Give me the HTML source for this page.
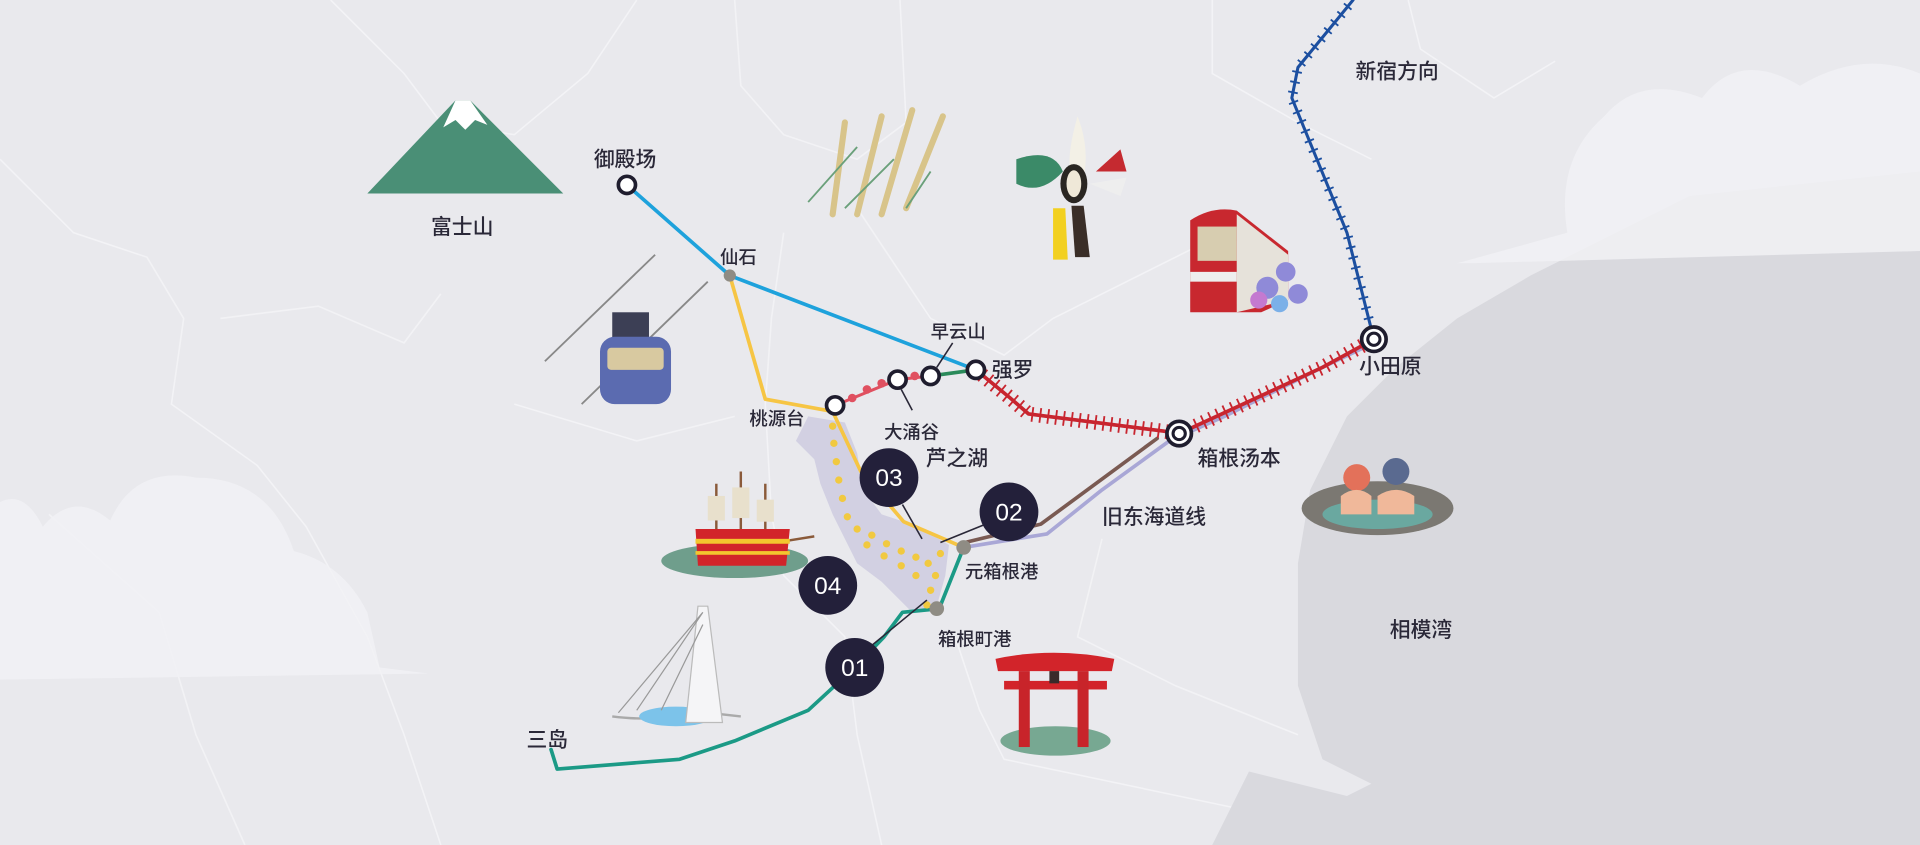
<!DOCTYPE html>
<html><head><meta charset="utf-8"><style>
html,body{margin:0;padding:0;background:#e8e8ec;overflow:hidden}
svg{display:block}
text{font-family:"Liberation Sans","Noto Sans CJK SC",sans-serif;fill:#2a2838;font-weight:500}
</style></head><body>
<svg width="1920" height="845" viewBox="0 0 1568 690" preserveAspectRatio="none" xmlns="http://www.w3.org/2000/svg">
<rect width="1568" height="690" fill="#e9e9ed"/>
<g fill="none" stroke="#f6f6f8" stroke-width="1.3" opacity="0.75">
<path d="M270 0 L330 60 L360 100 L420 110 L480 60 L520 0"/>
<path d="M600 0 L605 70 L640 110 L700 130 L740 100 L735 0"/>
<path d="M0 130 L60 190 L120 210 L150 260 L140 330 L210 380 L250 430 L300 520 L330 600 L360 690"/>
<path d="M180 260 L260 250 L330 280 L360 240"/>
<path d="M640 190 L630 260 L625 330 L630 420 L640 470 L690 520 L700 600 L720 690"/>
<path d="M700 170 L760 260 L820 290 L860 260 L980 200"/>
<path d="M780 520 L800 580 L820 620 L1010 660"/>
<path d="M900 440 L880 520 L960 560 L1060 600"/>
<path d="M990 0 L990 60 L1060 100 L1120 130"/>
<path d="M1150 0 L1160 40 L1220 80 L1270 50"/>
<path d="M420 330 L520 360 L600 340"/>
<path d="M40 420 L130 500 L160 600 L200 690"/>
</g>
<path d="M1568 140 L1380 160 L1250 225 L1190 260 L1140 300 L1100 340 L1070 400 L1060 460 L1060 560 L1080 620 L1120 640 L1100 650 L1020 630 L990 690 L1568 690 Z" fill="#d9d9de"/>
<g fill="#f1f1f4">
<path d="M1190 215 L1280 190 Q1270 130 1310 95 Q1340 60 1390 80 Q1420 40 1470 70 Q1520 40 1568 60 L1568 205 L1200 215Z" opacity="0.85"/>
<path d="M0 555 L0 410 Q20 400 35 430 Q60 400 90 425 Q110 380 160 390 Q220 390 240 450 Q280 460 300 500 L310 545 L350 550 Z" opacity="0.85"/>
</g>
<path d="M660 340 L690 345 L700 370 L705 400 L720 420 L750 430 L775 445 L772 470 L765 495 L745 500 L720 475 L700 460 L690 440 L680 420 L670 395 L665 375 L650 360 Z" fill="#d2d0e2"/>
<g fill="none" stroke-linejoin="round" stroke-linecap="round">
<polyline points="512,151 596,225 797,302" stroke="#1ea2dc" stroke-width="3"/>
<polyline points="596,225 625,326 680,336 703,385 738,426 787,447" stroke="#f6c544" stroke-width="3"/>
<polyline points="787,447 855,436 900,400 955,360 1000,340 1080,300 1122,280" stroke="#a9a7d6" stroke-width="3"/>
<polyline points="788,443 850,428 945,358" stroke="#7a5a52" stroke-width="3"/>
<polyline points="787,447 767,497 737,500 722,520 698,545 660,580 600,605 555,620 455,628 450,612" stroke="#1b9a86" stroke-width="3"/>
<polyline points="682,331 733,310 760,307" stroke="#e05060" stroke-width="2.5"/>
<polyline points="760,307 797,302" stroke="#2a8a5a" stroke-width="3"/>
<polyline points="797,302 825,325 840,338 950,352 963,354 1000,337 1080,300 1122,277" stroke="#c8252f" stroke-width="3"/>
<polyline points="797,302 825,325 840,338 950,352 963,354 1000,337 1080,300 1122,277" stroke="#c8252f" stroke-width="12" stroke-dasharray="1.5 5" stroke-linecap="butt"/>
<polyline points="1122,277 1100,190 1055,80 1060,55 1105,0" stroke="#1c4fa0" stroke-width="2.5"/>
<polyline points="1122,277 1100,190 1055,80 1060,55 1105,0" stroke="#1c4fa0" stroke-width="8" stroke-dasharray="1.5 7" stroke-linecap="butt"/>
</g>
<g fill="#e05060"><circle cx="696" cy="325" r="3.5"/><circle cx="708" cy="318" r="3.5"/><circle cx="720" cy="313" r="3.5"/><circle cx="747" cy="307" r="3.5"/></g>
<g fill="#f1c940">
<circle cx="680" cy="348" r="3"/><circle cx="681" cy="362" r="3"/><circle cx="683" cy="377" r="3"/><circle cx="685" cy="392" r="3"/><circle cx="688" cy="407" r="3"/><circle cx="692" cy="422" r="3"/><circle cx="700" cy="432" r="3"/><circle cx="712" cy="437" r="3"/><circle cx="724" cy="444" r="3"/><circle cx="736" cy="450" r="3"/><circle cx="748" cy="455" r="3"/><circle cx="758" cy="460" r="3"/><circle cx="764" cy="470" r="3"/><circle cx="760" cy="482" r="3"/><circle cx="748" cy="470" r="3"/><circle cx="736" cy="462" r="3"/><circle cx="722" cy="454" r="3"/><circle cx="708" cy="445" r="3"/><circle cx="768" cy="452" r="3"/><circle cx="757" cy="494" r="3"/>
</g>
<g stroke="#2a2838" stroke-width="1.3">
<line x1="737" y1="412" x2="753" y2="440"/><line x1="805" y1="428" x2="768" y2="443"/><line x1="712" y1="527" x2="757" y2="490"/>
<line x1="736" y1="318" x2="745" y2="335"/><line x1="765" y1="300" x2="778" y2="280"/>
</g>
<g fill="#fff" stroke="#1f1d2e" stroke-width="3">
<circle cx="512" cy="151" r="7"/><circle cx="682" cy="331" r="7"/><circle cx="733" cy="310" r="7"/><circle cx="760" cy="307" r="7"/><circle cx="797" cy="302" r="7"/>
<circle cx="963" cy="354" r="10"/><circle cx="1122" cy="277" r="10"/>
</g>
<g fill="none" stroke="#1f1d2e" stroke-width="2.5"><circle cx="963" cy="354" r="5"/><circle cx="1122" cy="277" r="5"/></g>
<g fill="#8f8c84"><circle cx="596" cy="225" r="5"/><circle cx="787" cy="447" r="6"/><circle cx="765" cy="497" r="6"/></g>
<g fill="#23203a"><circle cx="726" cy="390" r="24"/><circle cx="824" cy="418" r="24"/><circle cx="676" cy="478" r="24"/><circle cx="698" cy="545" r="24"/></g>
<g font-size="20" text-anchor="middle"><text x="726" y="397" style="fill:#fff">03</text><text x="824" y="425" style="fill:#fff">02</text><text x="676" y="485" style="fill:#fff">04</text><text x="698" y="552" style="fill:#fff">01</text></g>
<g font-size="17">
<text x="485" y="136">御殿场</text><text x="352" y="191">富士山</text><text x="588" y="215" font-size="15">仙石</text>
<text x="760" y="276" font-size="15">早云山</text><text x="810" y="308">强罗</text><text x="612" y="347" font-size="15">桃源台</text>
<text x="722" y="358" font-size="15">大涌谷</text><text x="756" y="380">芦之湖</text><text x="788" y="472" font-size="15">元箱根港</text>
<text x="766" y="527" font-size="15">箱根町港</text><text x="978" y="380">箱根汤本</text><text x="900" y="428">旧东海道线</text>
<text x="1110" y="305">小田原</text><text x="1107" y="64">新宿方向</text><text x="1135" y="520">相模湾</text><text x="430" y="610">三岛</text>
</g>
<path d="M300 158 L372 82 L384 82 L460 158 Z" fill="#4a8f76"/>
<path d="M372 82 L384 82 L398 102 L388 98 L380 106 L372 98 L362 104 Z" fill="#fff"/>
<line x1="445" y1="295" x2="535" y2="208" stroke="#888" stroke-width="1.5"/><line x1="475" y1="330" x2="578" y2="230" stroke="#888" stroke-width="1.5"/>
<rect x="500" y="255" width="30" height="25" fill="#3c3f55"/>
<rect x="490" y="275" width="58" height="55" rx="12" fill="#5b6bb0"/>
<rect x="496" y="284" width="46" height="18" rx="3" fill="#d8c9a0"/>
<g stroke="#d8c48a" stroke-width="5" fill="none" stroke-linecap="round"><path d="M680 175 L690 100"/><path d="M700 175 L720 95"/><path d="M720 175 L745 90"/><path d="M740 170 L770 95"/></g>
<g stroke="#6aa07a" stroke-width="1.5" fill="none"><path d="M660 165 L700 120"/><path d="M690 170 L730 130"/><path d="M740 170 L760 140"/></g>
<path d="M880 95 Q870 130 875 145 L885 145 Q890 120 880 95Z" fill="#f3f0e6"/>
<path d="M830 130 Q860 120 868 140 Q850 160 830 150Z" fill="#3b8a68"/>
<path d="M895 140 L915 122 L920 140Z" fill="#c52a30"/><path d="M890 150 L920 145 L915 160 Z" fill="#eeeeee"/>
<ellipse cx="877" cy="150" rx="11" ry="16" fill="#2a2622"/><ellipse cx="877" cy="150" rx="6" ry="11" fill="#efe8d8"/>
<path d="M860 170 L870 170 L872 212 L860 212Z" fill="#f2d020"/><path d="M875 168 L885 168 L890 210 L878 210Z" fill="#3a2e28"/>
<path d="M972 180 Q990 168 1010 172 L1052 205 L1052 245 L1030 255 L972 255 Z" fill="#c8282f"/>
<rect x="978" y="185" width="32" height="28" fill="#d7cdb0"/><rect x="972" y="222" width="38" height="8" fill="#eee"/>
<path d="M1010 175 L1052 208 L1052 245 L1010 255Z" fill="#e6e2da"/>
<g fill="#8f8ad8"><circle cx="1035" cy="235" r="9"/><circle cx="1050" cy="222" r="8"/><circle cx="1060" cy="240" r="8"/><circle cx="1028" cy="245" r="7" fill="#c47ad0"/><circle cx="1045" cy="248" r="7" fill="#7bb0e8"/></g>
<ellipse cx="1125" cy="415" rx="62" ry="22" fill="#7b7872"/>
<ellipse cx="1125" cy="420" rx="45" ry="12" fill="#6aa8a0"/>
<circle cx="1108" cy="390" r="11" fill="#e3715a"/><circle cx="1140" cy="385" r="11" fill="#5a6a90"/>
<path d="M1095 405 Q1108 395 1120 405 L1120 420 L1095 420Z" fill="#f0b89a"/><path d="M1125 405 Q1140 395 1155 405 L1155 420 L1125 420Z" fill="#f0b89a"/>
<ellipse cx="600" cy="458" rx="60" ry="14" fill="#6f9e8c"/>
<g stroke="#8a5a3a" stroke-width="2"><line x1="585" y1="395" x2="585" y2="435"/><line x1="605" y1="385" x2="605" y2="435"/><line x1="625" y1="395" x2="625" y2="435"/><line x1="640" y1="442" x2="665" y2="438"/></g>
<g fill="#e8e0cc"><rect x="578" y="405" width="14" height="20"/><rect x="598" y="398" width="14" height="25"/><rect x="618" y="408" width="14" height="18"/></g>
<path d="M568 432 L645 432 L642 462 L570 462 Z" fill="#d2242a"/>
<rect x="568" y="440" width="77" height="4" fill="#f3c62e"/><rect x="568" y="450" width="77" height="3" fill="#f3c62e"/>
<path d="M500 585 Q540 590 560 580 L605 585" stroke="#aaa" stroke-width="2" fill="none"/>
<ellipse cx="552" cy="585" rx="30" ry="8" fill="#7cc3ea"/>
<path d="M570 495 L578 495 L590 590 L560 590 Z" fill="#f5f5f7" stroke="#bbb"/>
<path d="M574 500 L505 582 M574 500 L520 580 M574 510 L540 580" stroke="#999" fill="none"/>
<ellipse cx="862" cy="605" rx="45" ry="12" fill="#77a892"/>
<path d="M813 538 Q860 528 910 538 L908 548 L815 548Z" fill="#d2242a"/>
<rect x="820" y="556" width="84" height="7" fill="#d2242a"/>
<rect x="832" y="548" width="9" height="62" fill="#c8242a"/><rect x="880" y="548" width="9" height="62" fill="#c8242a"/>
<rect x="857" y="548" width="8" height="10" fill="#3a2a2a"/>
</svg>
</body></html>
